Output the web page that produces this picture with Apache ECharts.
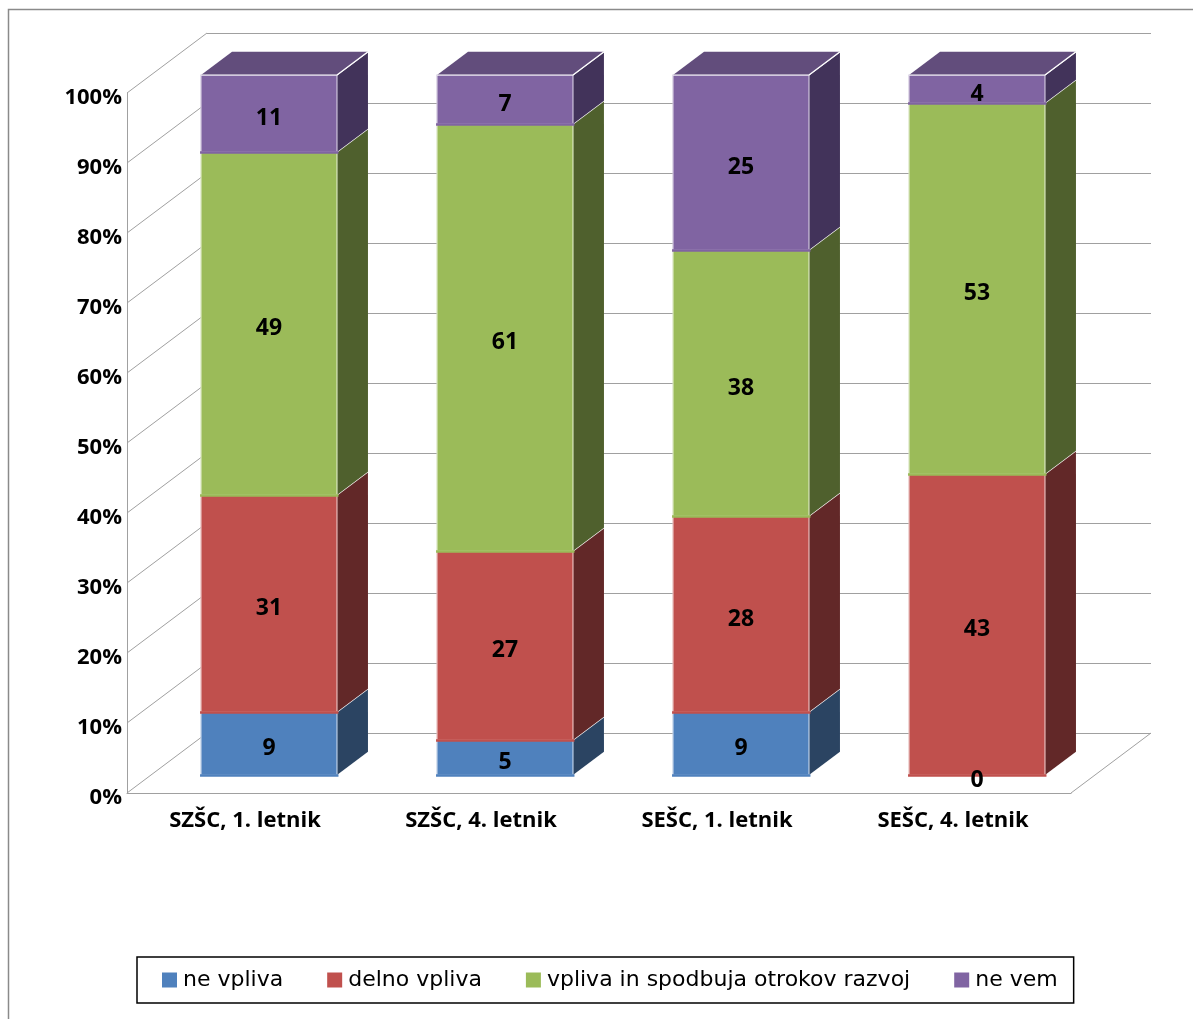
<!DOCTYPE html>
<html><head><meta charset="utf-8">
<script src="https://cdn.jsdelivr.net/npm/echarts@6/dist/echarts.min.js"></script>
<style>html,body{margin:0;padding:0;background:#fff}#c{width:1193px;height:1019px}</style>
</head><body><div id="c"></div>
<script>
// ---- data ----
const categories = ['SZŠC, 1. letnik', 'SZŠC, 4. letnik', 'SEŠC, 1. letnik', 'SEŠC, 4. letnik'];
const seriesNames = ['ne vpliva', 'delno vpliva', 'vpliva in spodbuja otrokov razvoj', 'ne vem'];
const neVpliva = [9, 5, 9, 0];
const delnoVpliva = [31, 27, 28, 43];
const vplivaSpodbuja = [49, 61, 38, 53];
const neVem = [11, 7, 25, 4];
const yTicks = [0, 10, 20, 30, 40, 50, 60, 70, 80, 90, 100];

// ---- styling ----
const frontColors = ['#4F81BD', '#C0504D', '#9BBB59', '#8064A2'];
const sideColors  = ['#2B4462', '#622828', '#4F602D', '#42335A'];
const topColors   = ['#3C5F8A', '#8E3B39', '#738A42', '#624D7C'];
const edgeColors  = ['#B9CDE5', '#E6B9B8', '#D7E4BD', '#CCC1DA'];
const BAR_FRAC = 0.576;
const BAR_DX = 31, BAR_DY = -23.3;
const WALL_DX = 80, WALL_DY = -60;
const GRID_COLOR = '#A0A0A0';
const BOLD_FONT = 'Open Sans';

const allValues = [neVpliva, delnoVpliva, vplivaSpodbuja, neVem];

function makeBarRender(si) {
  return function (params, api) {
    const cat = api.value(0), s = api.value(1), e = api.value(2), v = api.value(3);
    const band = api.size([1, 0])[0];
    const w = band * BAR_FRAC;
    const pT = api.coord([cat, e]);
    const pB = api.coord([cat, s]);
    const x = pT[0] - w / 2, yT = pT[1], yB = pB[1];
    const ch = [];
    if (yB - yT > 0.01) {
      ch.push({ type: 'polygon', shape: { points: [[x + w, yT], [x + w + BAR_DX, yT + BAR_DY], [x + w + BAR_DX, yB + BAR_DY], [x + w, yB]] },
        style: { fill: sideColors[si], stroke: null } });
      ch.push({ type: 'rect', shape: { x: x, y: yT, width: w, height: yB - yT },
        style: { fill: frontColors[si], stroke: edgeColors[si], lineWidth: 1.2 } });
      ch.push({ type: 'line', shape: { x1: x - 1, y1: yB + 0.5, x2: x + w + 1.5, y2: yB + 0.5 },
        style: { stroke: frontColors[si], lineWidth: 2.5 } });
      ch.push({ type: 'line', shape: { x1: x + w, y1: yT, x2: x + w + BAR_DX, y2: yT + BAR_DY },
        style: { stroke: '#FFFFFF', lineWidth: 1.2 } });
      if (e >= 100) {
        ch.push({ type: 'polygon', shape: { points: [[x, yT], [x + BAR_DX, yT + BAR_DY], [x + w + BAR_DX, yT + BAR_DY], [x + w, yT]] },
          style: { fill: topColors[si], stroke: null } });
        ch.push({ type: 'polyline', shape: { points: [[x, yT], [x + w, yT], [x + w + BAR_DX, yT + BAR_DY]] },
          style: { stroke: '#FFFFFF', lineWidth: 1.2, fill: null } });
      }
    }
    ch.push({ type: 'text', z2: 100, style: { text: String(v), x: pT[0], y: (yT + yB) / 2 + 5,
      align: 'center', verticalAlign: 'middle', textAlign: 'center', textVerticalAlign: 'middle',
      font: 'bold 23px "' + BOLD_FONT + '"', fill: '#000' } });
    return { type: 'group', children: ch };
  };
}

const barSeries = allValues.map((vals, si) => {
  const data = vals.map((v, ci) => {
    let start = 0;
    for (let k = 0; k < si; k++) start += allValues[k][ci];
    return [ci, start, start + v, v];
  });
  return {
    type: 'custom', name: seriesNames[si], xAxisIndex: 0, yAxisIndex: 0, z: 3,
    itemStyle: { color: frontColors[si] },
    encode: { x: 0, y: [1, 2] },
    renderItem: makeBarRender(si),
    data: data
  };
});

const frameSeries = {
  type: 'custom', name: 'frame', xAxisIndex: 2, yAxisIndex: 2, z: 1, silent: true,
  encode: { x: 0, y: 1 },
  renderItem: function (params, api) {
    const v = api.value(1);
    const band = api.size([1, 0])[0];
    const p = api.coord([0, v]);
    const xL = p[0] - band / 2;
    const ch = [{ type: 'line', shape: { x1: xL, y1: p[1], x2: xL + WALL_DX, y2: p[1] + WALL_DY }, style: { stroke: GRID_COLOR, lineWidth: 1 } }];
    if (v === 0) {
      const pr = api.coord([categories.length - 1, 0]);
      const xR = pr[0] + band / 2;
      ch.push({ type: 'line', shape: { x1: xR, y1: pr[1], x2: xR + WALL_DX, y2: pr[1] + WALL_DY }, style: { stroke: GRID_COLOR, lineWidth: 1 } });
    }
    return { type: 'group', children: ch };
  },
  data: yTicks.map(t => [0, t])
};

const chart = echarts.init(document.getElementById('c'), null, { renderer: 'canvas' });
chart.setOption({
  animation: false,
  backgroundColor: '#fff',
  graphic: [{ type: 'rect', silent: true, z: -1, shape: { x: 8.5, y: 9.5, width: 1300, height: 1100 },
    style: { fill: null, stroke: '#8A8A8A', lineWidth: 1.5 } }],
  grid: [
    { left: 151, right: 98, top: 75, bottom: 244 },   // bar front plane
    { left: 207, right: 42, top: 33, bottom: 286 },   // back wall
    { left: 127, right: 122, top: 93, bottom: 226 }   // front axis plane
  ],
  xAxis: [
    { type: 'category', gridIndex: 0, data: categories, show: false },
    { type: 'category', gridIndex: 1, data: categories, show: false },
    { type: 'category', gridIndex: 2, data: categories,
      axisLine: { show: true, lineStyle: { color: GRID_COLOR, width: 1 } },
      axisTick: { show: false },
      axisLabel: { color: '#000', fontFamily: BOLD_FONT, fontWeight: 'bold', fontSize: 22, margin: 17 } }
  ],
  yAxis: [
    { type: 'value', gridIndex: 0, min: 0, max: 100, interval: 10, show: false },
    { type: 'value', gridIndex: 1, min: 0, max: 100, interval: 10,
      axisLine: { show: false }, axisTick: { show: false }, axisLabel: { show: false },
      splitLine: { show: true, lineStyle: { color: GRID_COLOR, width: 1 } } },
    { type: 'value', gridIndex: 2, min: 0, max: 100, interval: 10,
      axisLine: { show: true, lineStyle: { color: GRID_COLOR, width: 1 } },
      axisTick: { show: false }, splitLine: { show: false },
      axisLabel: { formatter: '{value}%', color: '#000', fontFamily: BOLD_FONT, fontWeight: 'bold', fontSize: 22, margin: 5, verticalAlign: 'top', lineHeight: 10 } }
  ],
  legend: {
    data: seriesNames, left: 137, top: 957, orient: 'horizontal',
    icon: 'rect', itemWidth: 15, itemHeight: 15, itemGap: 44,
    padding: [12, 16, 12, 25], borderColor: '#000', borderWidth: 1.5,
    textStyle: { fontFamily: 'DejaVu Sans', fontSize: 22, color: '#000', padding: [0, 0, 0, 1] }
  },
  series: [frameSeries].concat(barSeries)
});
</script></body></html>
